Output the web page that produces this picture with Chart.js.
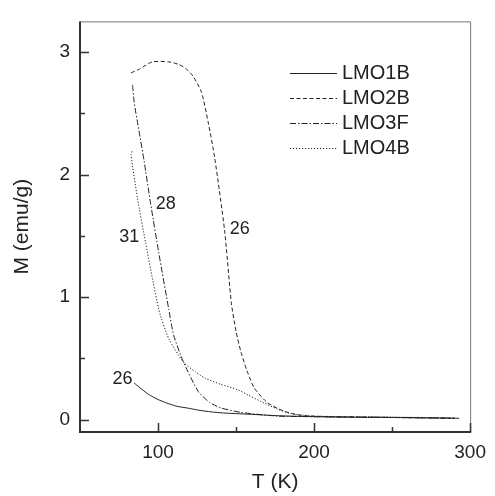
<!DOCTYPE html>
<html>
<head>
<meta charset="utf-8">
<script src="https://cdn.jsdelivr.net/npm/chart.js@4/dist/chart.umd.min.js"></script>
<style>
  html, body { margin: 0; padding: 0; background: #fff; }
  canvas { display: block; }
</style>
</head>
<body>
<canvas id="mtChart" width="495" height="496"></canvas>
<script>
// ====== DATA ======
const tempLMO1B = [84.7, 88, 94, 100, 105, 112, 119.5, 126, 134, 142, 157, 178, 200, 220, 248, 270, 293];
const magLMO1B  = [0.30, 0.265, 0.206, 0.165, 0.139, 0.11, 0.094, 0.078, 0.064, 0.055, 0.046, 0.032, 0.025, 0.021, 0.019, 0.016, 0.012];

const tempLMO2B = [82.7, 88, 96.3, 106.9, 113, 117.4, 122.6, 127.9, 132.1, 136.4, 142.7, 147, 150, 153.2, 157, 161.6, 170, 180.6, 192, 210, 240, 270, 290];
const magLMO2B  = [2.83, 2.86, 2.92, 2.92, 2.90, 2.87, 2.80, 2.67, 2.43, 2.13, 1.54, 0.95, 0.72, 0.55, 0.40, 0.26, 0.14, 0.07, 0.035, 0.025, 0.02, 0.015, 0.012];

const tempLMO3F = [83.7, 84.7, 87.9, 91.1, 95.3, 100.5, 106.9, 110, 116.3, 125.8, 133.2, 140.3, 153.2, 176.3, 200, 240, 290];
const magLMO3F  = [2.73, 2.59, 2.35, 2.11, 1.76, 1.36, 0.90, 0.69, 0.47, 0.23, 0.14, 0.096, 0.06, 0.03, 0.025, 0.02, 0.012];

const tempLMO4B = [83.3, 82.7, 86.8, 92.1, 100.5, 106.9, 116.3, 124, 130, 140, 151, 158, 165.8, 176.3, 185, 200, 225, 260, 290];
const magLMO4B  = [2.19, 2.16, 1.81, 1.44, 0.90, 0.66, 0.47, 0.39, 0.34, 0.29, 0.245, 0.20, 0.15, 0.088, 0.05, 0.03, 0.025, 0.02, 0.015];

const seriesNames = ["LMO1B", "LMO2B", "LMO3F", "LMO4B"];

const xTickValues = [100, 150, 200, 250, 300];
const yTickValues = [0, 0.5, 1, 1.5, 2, 2.5, 3];

// labels written next to the curves
const noteTexts = ["26", "31", "28", "26"];
const noteTemps = [77.2, 81.6, 105, 152.3];
const noteMags  = [0.33, 1.49, 1.76, 1.56];

const FONT = "'Liberation Sans', Arial, sans-serif";
const INK = "#222";

function toPoints(xs, ys) {
    return xs.map((x, i) => ({ x: x, y: ys[i] }));
}

const dashStyles = [[], [4, 2.5], [6, 2, 1.5, 2], [1.2, 1.8]];
const allTemps = [tempLMO1B, tempLMO2B, tempLMO3F, tempLMO4B];
const allMags = [magLMO1B, magLMO2B, magLMO3F, magLMO4B];

const datasets = seriesNames.map((name, i) => ({
    label: name,
    data: toPoints(allTemps[i], allMags[i]),
    showLine: true,
    borderColor: INK,
    borderWidth: 1,
    borderDash: dashStyles[i],
    pointRadius: 0,
    tension: 0.2,
    fill: false
}));

// frame + inward ticks + legend + curve notes
const decorPlugin = {
    id: "decor",
    afterDraw(chart) {
        const ctx = chart.ctx;
        const a = chart.chartArea;
        const xs = chart.scales.x;
        const ys = chart.scales.y;
        ctx.save();

        // top & right border (thin, grey)
        ctx.strokeStyle = "#777";
        ctx.lineWidth = 1;
        ctx.beginPath();
        ctx.moveTo(a.left, a.top + 0.5);
        ctx.lineTo(a.right + 0.5, a.top + 0.5);
        ctx.lineTo(a.right + 0.5, a.bottom);
        ctx.stroke();

        // left & bottom axes (thicker, dark)
        ctx.strokeStyle = "#333";
        ctx.lineWidth = 2;
        ctx.beginPath();
        ctx.moveTo(a.left, a.top);
        ctx.lineTo(a.left, a.bottom);
        ctx.lineTo(a.right + 1, a.bottom);
        ctx.stroke();

        // inward ticks
        ctx.lineWidth = 1.5;
        xTickValues.forEach(v => {
            const px = Math.round(xs.getPixelForValue(v)) + 0.5;
            const len = v % 100 === 0 ? 9 : 5;
            ctx.beginPath();
            ctx.moveTo(px, a.bottom);
            ctx.lineTo(px, a.bottom - len);
            ctx.stroke();
        });
        yTickValues.forEach(v => {
            const py = Math.round(ys.getPixelForValue(v)) + 0.5;
            const len = Number.isInteger(v) ? 9 : 5;
            ctx.beginPath();
            ctx.moveTo(a.left, py);
            ctx.lineTo(a.left + len, py);
            ctx.stroke();
        });

        // legend
        ctx.font = "20px " + FONT;
        ctx.textBaseline = "middle";
        ctx.fillStyle = INK;
        chart.data.datasets.forEach((ds, i) => {
            const y = 73 + i * 25;
            ctx.strokeStyle = INK;
            ctx.lineWidth = 1;
            ctx.setLineDash(ds.borderDash);
            ctx.beginPath();
            ctx.moveTo(290, y + 0.5);
            ctx.lineTo(337, y + 0.5);
            ctx.stroke();
            ctx.setLineDash([]);
            ctx.fillText(ds.label, 342, y);
        });

        // curve notes
        ctx.font = "18px " + FONT;
        ctx.textAlign = "center";
        noteTexts.forEach((t, i) => {
            ctx.fillText(t, xs.getPixelForValue(noteTemps[i]), ys.getPixelForValue(noteMags[i]));
        });

        ctx.restore();
    }
};

new Chart(document.getElementById("mtChart"), {
    type: "scatter",
    data: { datasets: datasets },
    options: {
        responsive: false,
        animation: false,
        layout: { padding: { top: 15, right: 19, bottom: 0, left: 0 } },
        plugins: {
            legend: { display: false },
            tooltip: { enabled: false }
        },
        scales: {
            x: {
                type: "linear",
                min: 50,
                max: 300,
                grid: { display: false, drawTicks: false },
                border: { display: false },
                afterBuildTicks: s => { s.ticks = [100, 200, 300].map(v => ({ value: v })); },
                afterFit: s => { s.height = 64; },
                ticks: {
                    color: INK,
                    padding: 9,
                    autoSkip: false,
                    maxRotation: 0,
                    font: { family: FONT, size: 19 }
                },
                title: {
                    display: true,
                    text: "T (K)",
                    color: INK,
                    padding: { top: 0, bottom: 1 },
                    font: { family: FONT, size: 21 }
                }
            },
            y: {
                type: "linear",
                min: -0.1,
                max: 3.25,
                grid: { display: false, drawTicks: false },
                border: { display: false },
                afterBuildTicks: s => { s.ticks = [0, 1, 2, 3].map(v => ({ value: v })); },
                afterFit: s => { s.width = 80; },
                ticks: {
                    color: INK,
                    padding: 10,
                    autoSkip: false,
                    font: { family: FONT, size: 19 }
                },
                title: {
                    display: true,
                    text: "M (emu/g)",
                    color: INK,
                    padding: { top: 10, bottom: 0 },
                    font: { family: FONT, size: 21 }
                }
            }
        }
    },
    plugins: [decorPlugin]
});
</script>
</body>
</html>
